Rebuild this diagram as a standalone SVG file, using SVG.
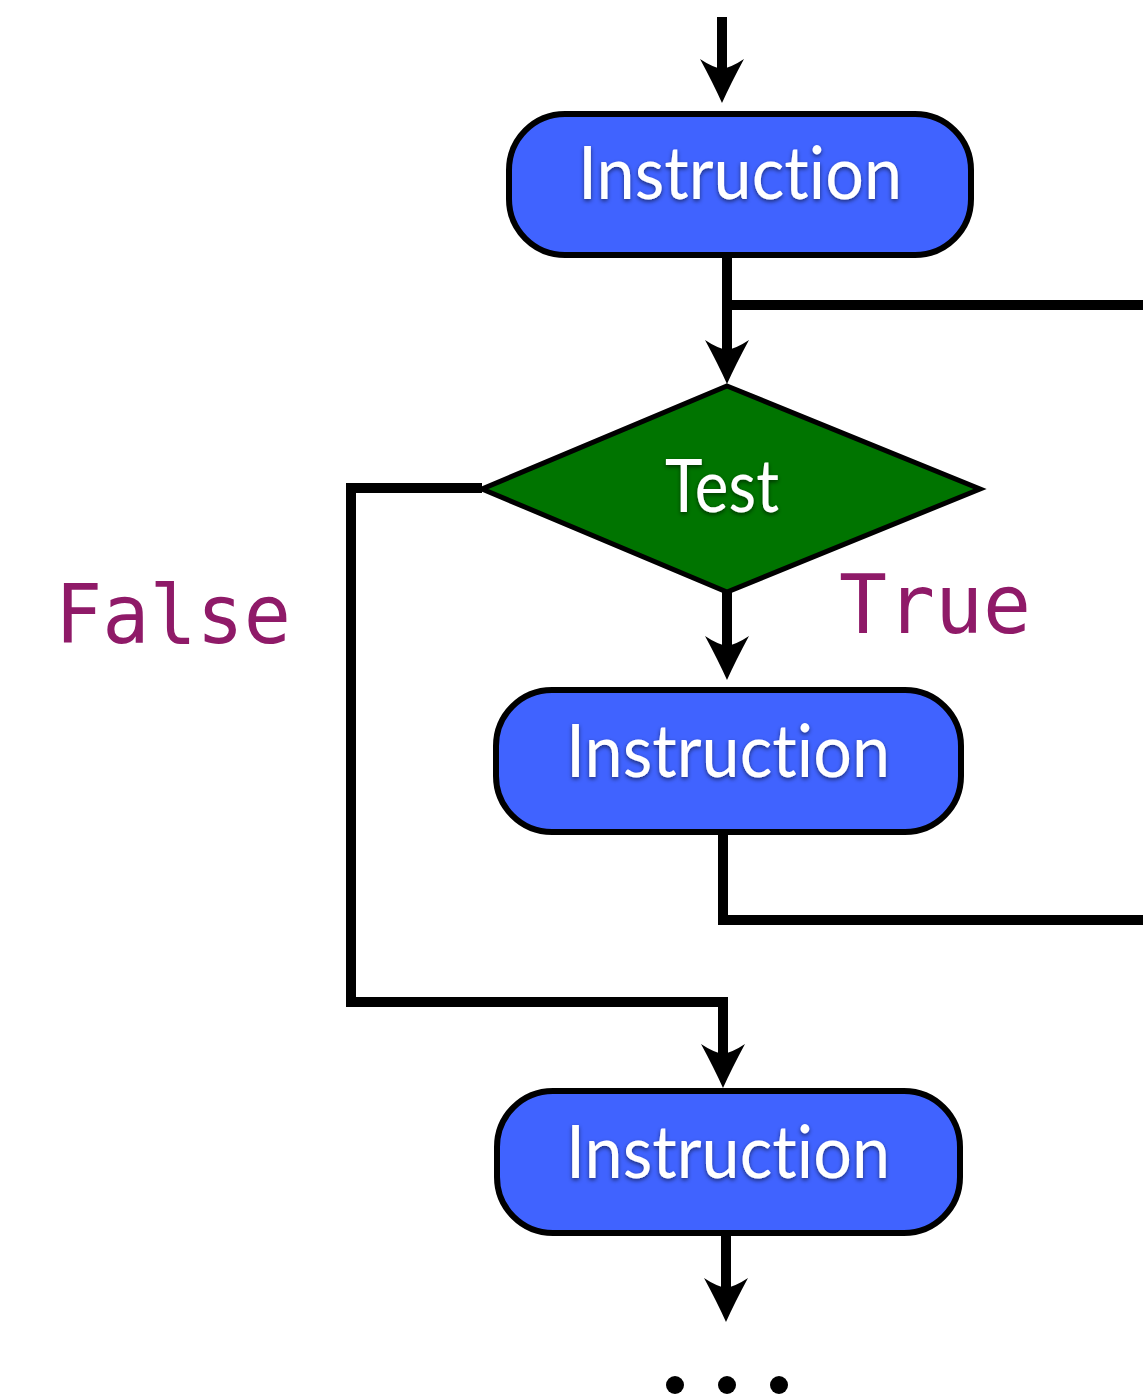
<svg xmlns="http://www.w3.org/2000/svg" width="1143" height="1398" viewBox="0 0 1143 1398">
  <style>
    .box { fill: #4063FF; stroke: #000; stroke-width: 6; }
    .test { fill: #007400; stroke: #000; stroke-width: 5; stroke-linejoin: miter; }
    .label { fill: #fff; font-family: Lato, "Open Sans", "DejaVu Sans", sans-serif; font-size: 73px; text-anchor: middle; font-variant-ligatures: none; filter: url(#shadow); }
    .branch { fill: #8F1A68; font-family: "DejaVu Sans Mono", "Liberation Mono", monospace; font-size: 82px; text-anchor: middle; }
    .wire { fill: none; stroke: #000; stroke-width: 10; stroke-linejoin: miter; stroke-linecap: butt; }
    .arrow { marker-end: url(#head); }
  </style>
  <defs>
    <filter id="shadow" x="-10%" y="-20%" width="120%" height="150%">
      <feDropShadow dx="0" dy="2" stdDeviation="2" flood-color="#000" flood-opacity="0.55"/>
    </filter>
    <!-- swept arrowhead; path end sits at the notch, tip reaches 34px further -->
    <marker id="head" markerUnits="userSpaceOnUse" viewBox="-46 -24 48 48" refX="-34" refY="0" markerWidth="48" markerHeight="48" orient="auto" overflow="visible">
      <path d="M0,0 Q-20,-9 -44,-22 Q-36,-10 -34,0 Q-36,10 -44,22 Q-20,9 0,0 Z" fill="#000"/>
    </marker>
  </defs>

  <!-- connectors -->
  <g id="connectors">
    <path class="wire arrow" d="M722,17 V69"/>
    <path class="wire arrow" d="M727,256 V350"/>
    <path class="wire" d="M727,305 H1143"/>
    <path class="wire arrow" d="M727,592 V646"/>
    <path class="wire" d="M723,832 V920 H1143"/>
    <path class="wire arrow" d="M482,488 H351 V1002 H723 V1054"/>
    <path class="wire arrow" d="M726,1234 V1288"/>
  </g>

  <g id="start">
    <rect class="box" x="509" y="114" width="462" height="141" rx="56" ry="56"/>
    <text class="label" x="740" y="199" textLength="324" lengthAdjust="spacingAndGlyphs">Instruction</text>
  </g>

  <g id="test">
    <polygon class="test" points="727,386 980,489 727,592 482,489"/>
    <text class="label" x="722" y="512" textLength="114" lengthAdjust="spacingAndGlyphs">Test</text>
  </g>

  <g id="body">
    <rect class="box" x="496" y="690" width="465" height="142" rx="56" ry="56"/>
    <text class="label" x="728" y="777" textLength="324" lengthAdjust="spacingAndGlyphs">Instruction</text>
  </g>

  <g id="next">
    <rect class="box" x="497" y="1091" width="463" height="142" rx="56" ry="56"/>
    <text class="label" x="728" y="1178" textLength="324" lengthAdjust="spacingAndGlyphs">Instruction</text>
  </g>

  <g id="labels">
    <text class="branch" x="173" y="643" textLength="236" lengthAdjust="spacingAndGlyphs">False</text>
    <text class="branch" x="935" y="633" textLength="192" lengthAdjust="spacingAndGlyphs">True</text>
  </g>

  <g id="ellipsis" fill="#000">
    <circle cx="675" cy="1385" r="9"/>
    <circle cx="727" cy="1385" r="9"/>
    <circle cx="779" cy="1385" r="9"/>
  </g>
</svg>
